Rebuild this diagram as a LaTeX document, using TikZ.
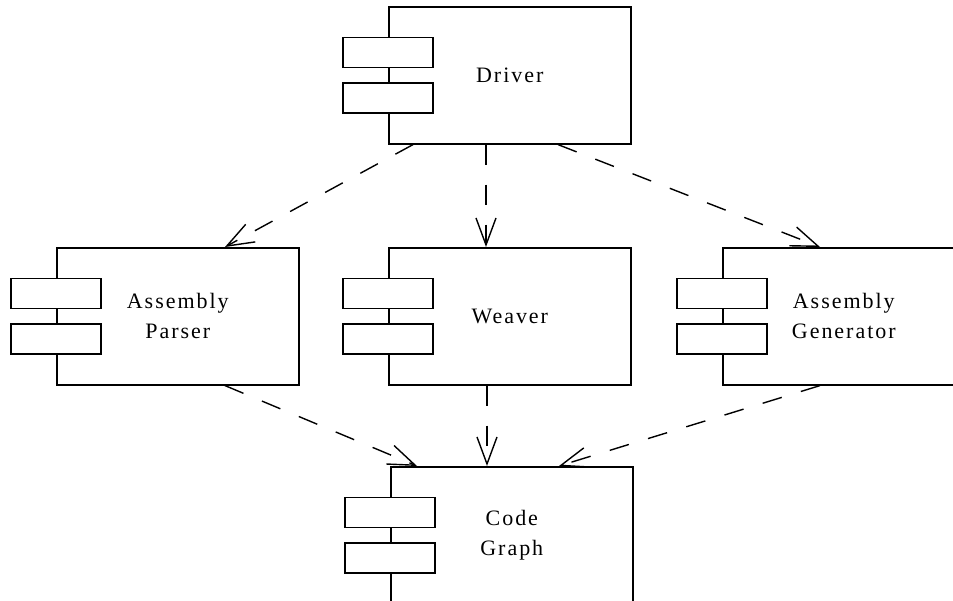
\documentclass[tikz,border=0pt]{standalone}
\usepackage{fontspec}
\usetikzlibrary{arrows.meta,calc}
\newfontfamily\labelfont[LetterSpace=9]{Liberation Serif}

\tikzset{
  comp/.style={draw, line width=1.6pt, anchor=north west,
    minimum width=242pt, minimum height=137pt, inner sep=0pt,
    align=center, font=\labelfont\fontsize{22pt}{30pt}\selectfont},
  tab/.style={draw, fill=white, line width=1.6pt,
    minimum width=90pt, minimum height=30pt, inner sep=0pt},
  dep/.style={line width=1.4pt, dash pattern=on 20pt off 20pt,
    -{Straight Barb[length=27pt,width=20pt,line width=1.4pt]}}
}

\begin{document}
\begin{tikzpicture}[x=1pt,y=-1pt]
  \clip (0,0) rectangle (953,601);
  \fill[white] (0,0) rectangle (953,601);

  % component boxes
  \node[comp] (drv) at (388,6)   {Driver};
  \node[comp] (par) at (56,247)  {Assembly\\Parser};
  \node[comp] (wv)  at (388,247) {Weaver};
  \node[comp] (gen) at (722,247) {Assembly\\Generator};
  \node[comp] (cg)  at (390,466) {Code\\Graph};

  % the two interface tabs on the left edge of each component
  \node[tab] (drvA) at ($(drv.north west)+(0,46.5)$) {};
  \node[tab] (drvB) at ($(drv.north west)+(0,92)$) {};
  \node[tab] (parA) at ($(par.north west)+(0,46.5)$) {};
  \node[tab] (parB) at ($(par.north west)+(0,92)$) {};
  \node[tab] (wvA)  at ($(wv.north west)+(0,46.5)$) {};
  \node[tab] (wvB)  at ($(wv.north west)+(0,92)$) {};
  \node[tab] (genA) at ($(gen.north west)+(0,46.5)$) {};
  \node[tab] (genB) at ($(gen.north west)+(0,92)$) {};
  \node[tab] (cgA)  at ($(cg.north west)+(0,46.5)$) {};
  \node[tab] (cgB)  at ($(cg.north west)+(0,92)$) {};

  % attachment points of the dependencies
  \coordinate (drv-l) at ($(drv.south west)+(25,0)$);
  \coordinate (drv-m) at ($(drv.south west)+(98,0)$);
  \coordinate (drv-r) at ($(drv.south west)+(170,0)$);
  \coordinate (par-in)  at ($(par.north west)+(169,0)$);
  \coordinate (par-out) at ($(par.south west)+(169,0)$);
  \coordinate (wv-in)   at ($(wv.north west)+(98,0)$);
  \coordinate (wv-out)  at ($(wv.south west)+(99,0)$);
  \coordinate (gen-in)  at ($(gen.north west)+(98,0)$);
  \coordinate (gen-out) at ($(gen.south west)+(98,0)$);
  \coordinate (cg-l) at ($(cg.north west)+(27,0)$);
  \coordinate (cg-m) at ($(cg.north west)+(97,0)$);
  \coordinate (cg-r) at ($(cg.north west)+(169,0)$);

  % dependencies
  \draw[dep] (drv-l) -- (par-in);
  \draw[dep] (drv-m) -- (wv-in);
  \draw[dep] (drv-r) -- (gen-in);
  \draw[dep] (par-out) -- (cg-l);
  \draw[dep] (wv-out) -- (cg-m);
  \draw[dep] (gen-out) -- (cg-r);
\end{tikzpicture}
\end{document}
